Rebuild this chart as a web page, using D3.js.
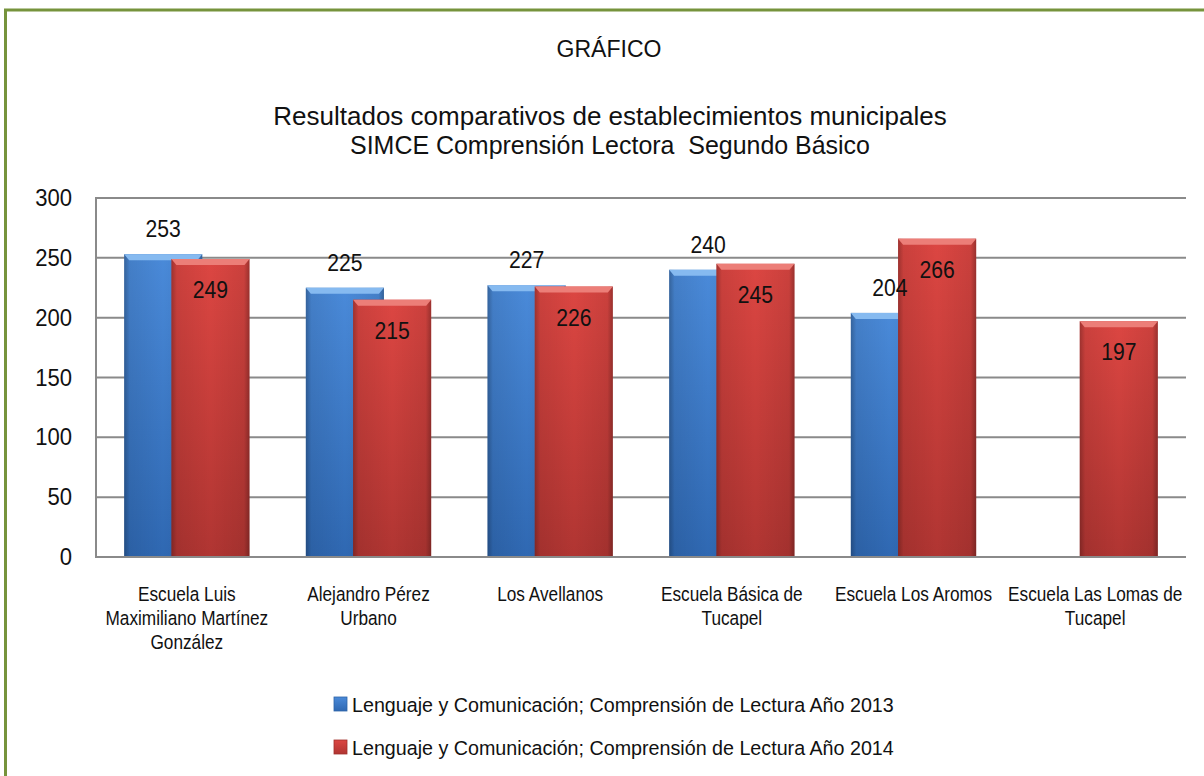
<!DOCTYPE html>
<html lang="es">
<head>
  <meta charset="utf-8" />
  <title>Resultados SIMCE</title>
  <style>
    body {
      margin: 0;
      background: #fff;
      font-family: "Liberation Sans", Arial, sans-serif;
    }
    svg text { fill: #111; white-space: pre; }
  </style>
</head>
<body>
  <div id="graphic"></div>

  <script src="https://cdn.jsdelivr.net/npm/d3@7/dist/d3.min.js"></script>
  <script>
    // data
    var categories = [
      "Escuela Luis Maximiliano Martínez González",
      "Alejandro Pérez Urbano",
      "Los Avellanos",
      "Escuela Básica de Tucapel",
      "Escuela Los Aromos",
      "Escuela Las Lomas de Tucapel"
    ];
    var values2013 = [253, 225, 227, 240, 204, null];
    var values2014 = [249, 215, 226, 245, 266, 197];
    var seriesNames = [
      "Lenguaje y Comunicación; Comprensión de Lectura Año 2013",
      "Lenguaje y Comunicación; Comprensión de Lectura Año 2014"
    ];
    var yTicks = [0, 50, 100, 150, 200, 250, 300];

    var width = 1204, height = 776;
    var margin = {top: 198, right: 18, bottom: 219, left: 96};

    var svg = d3.select("#graphic").append("svg")
      .attr("width", width)
      .attr("height", height);

    // gradients for the bevelled excel bars
    var defs = svg.append("defs");
    function vgrad(id, top, bottom) {
      var g = defs.append("linearGradient").attr("id", id)
        .attr("x1", 0).attr("y1", 0).attr("x2", 0).attr("y2", 1);
      g.append("stop").attr("offset", "0%").attr("stop-color", top);
      g.append("stop").attr("offset", "100%").attr("stop-color", bottom);
    }
    vgrad("blueBody", "#4a8ad9", "#2f68b2");
    vgrad("redBody", "#dc4642", "#b03532");
    var edge = defs.append("linearGradient").attr("id", "edgeShade")
      .attr("x1", 0).attr("y1", 0).attr("x2", 1).attr("y2", 0);
    [[0, 0.28], [0.07, 0.08], [0.5, 0], [0.93, 0.08], [1, 0.3]].forEach(function(s) {
      edge.append("stop").attr("offset", s[0]).attr("stop-color", "#000").attr("stop-opacity", s[1]);
    });

    // outer green frame (right and bottom fall outside the shot)
    svg.append("rect")
      .attr("x", 5.5).attr("y", 10)
      .attr("width", 1400).attr("height", 1000)
      .attr("fill", "none")
      .attr("stroke", "#76933c")
      .attr("stroke-width", 3);

    // text drawn a little condensed, like the narrow office font
    function label(parent, x, y, size, sx, anchor, str) {
      return parent.append("text")
        .attr("transform", "translate(" + x + "," + y + ") scale(" + sx + ",1)")
        .attr("text-anchor", anchor)
        .style("font-size", size + "px")
        .text(str);
    }

    // titles
    label(svg, 609, 57, 23, 1, "middle", "GRÁFICO");
    label(svg, 610, 125, 26, 1, "middle", "Resultados comparativos de establecimientos municipales");
    label(svg, 610, 154, 26, 0.96, "middle", "SIMCE Comprensión Lectora  Segundo Básico");

    var x = d3.scaleBand()
      .domain(categories)
      .range([margin.left, width - margin.right])
      .paddingInner(0).paddingOuter(0);

    var y = d3.scaleLinear()
      .domain([0, 300])
      .range([height - margin.bottom, margin.top]);

    // gridlines
    svg.append("g").selectAll("line")
      .data(yTicks.filter(function(d) { return d > 0; }))
      .enter().append("line")
      .attr("x1", margin.left).attr("x2", width - margin.right)
      .attr("y1", function(d) { return y(d); })
      .attr("y2", function(d) { return y(d); })
      .attr("stroke", "#8a8a8a").attr("stroke-width", 2);

    var bw = x.bandwidth();
    var barW = bw * 0.43, step = bw * 0.26;
    function barX(cat, s) {
      var c = x(cat) + bw / 2;
      return c - (barW + step) / 2 + s * step;
    }

    function drawBars(vals, s, fillId, bevel) {
      var data = categories.map(function(c, i) { return {cat: c, v: vals[i]}; })
        .filter(function(d) { return d.v != null; });
      var g = svg.append("g").selectAll("g").data(data).enter().append("g");
      g.append("rect")
        .attr("x", function(d) { return barX(d.cat, s); })
        .attr("y", function(d) { return y(d.v); })
        .attr("width", barW)
        .attr("height", function(d) { return y(0) - y(d.v); })
        .attr("fill", "url(#" + fillId + ")");
      g.append("rect")
        .attr("x", function(d) { return barX(d.cat, s); })
        .attr("y", function(d) { return y(d.v); })
        .attr("width", barW)
        .attr("height", function(d) { return y(0) - y(d.v); })
        .attr("fill", "url(#edgeShade)");
      g.append("path")
        .attr("d", function(d) {
          var x0 = barX(d.cat, s), y0 = y(d.v);
          return "M" + x0 + "," + y0 + "H" + (x0 + barW) +
            "L" + (x0 + barW - 5) + "," + (y0 + 6) + "H" + (x0 + 5) + "Z";
        })
        .attr("fill", bevel);
      return data;
    }
    var d13 = drawBars(values2013, 0, "blueBody", "#86baf0");
    var d14 = drawBars(values2014, 1, "redBody", "#ec7e78");

    // axis lines
    svg.append("line")
      .attr("x1", margin.left).attr("x2", width - margin.right)
      .attr("y1", y(0)).attr("y2", y(0))
      .attr("stroke", "#8a8a8a").attr("stroke-width", 2);
    svg.append("line")
      .attr("x1", margin.left).attr("x2", margin.left)
      .attr("y1", y(0) + 1).attr("y2", y(300) - 1)
      .attr("stroke", "#8a8a8a").attr("stroke-width", 2);

    // y tick labels
    yTicks.forEach(function(t) {
      label(svg, 72, y(t) + 8, 24, 0.92, "end", t);
    });

    // value labels: 2013 outside end, 2014 inside end
    d13.forEach(function(d) {
      label(svg, barX(d.cat, 0) + barW / 2, y(d.v) - 17, 23.5, 0.9, "middle", d.v);
    });
    d14.forEach(function(d) {
      label(svg, barX(d.cat, 1) + barW / 2, y(d.v) + 39, 23.5, 0.9, "middle", d.v);
    });

    // category labels, wrapped
    var sxCat = 0.884;
    categories.forEach(function(c) {
      var t = label(svg, x(c) + bw / 2, 601, 19.5, sxCat, "middle", c);
      wrap(t, 178 / sxCat);
    });

    // legend
    var swatch = ["blueBody", "redBody"];
    seriesNames.forEach(function(name, i) {
      var ly = 705 + i * 43;
      svg.append("rect")
        .attr("x", 334).attr("y", ly - 8)
        .attr("width", 13).attr("height", 14)
        .attr("fill", "url(#" + swatch[i] + ")")
        .attr("stroke", i ? "#a0302c" : "#2e64a8").attr("stroke-width", 0.8);
      label(svg, 352, ly + 7, 19.7, 1, "start", name);
    });

    function wrap(text, w) {
      var words = text.text().split(/\s+/).reverse(),
        word, line = [], lineNumber = 0,
        tspan = text.text(null).append("tspan").attr("x", 0).attr("y", 0);
      while (word = words.pop()) {
        line.push(word);
        tspan.text(line.join(" "));
        if (tspan.node().getComputedTextLength() > w && line.length > 1) {
          line.pop();
          tspan.text(line.join(" "));
          line = [word];
          lineNumber++;
          tspan = text.append("tspan").attr("x", 0)
            .attr("y", lineNumber * 24).text(word);
        }
      }
    }
  </script>
</body>
</html>
